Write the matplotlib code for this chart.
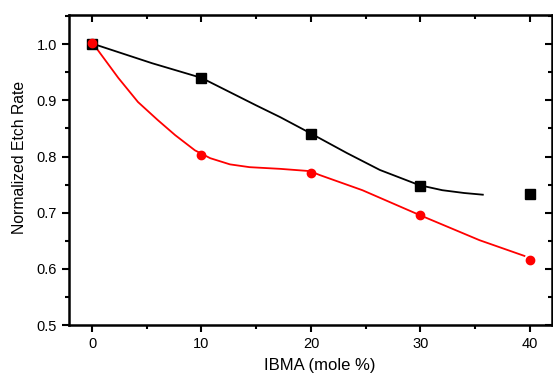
import matplotlib.pyplot as plt
from matplotlib.ticker import MultipleLocator

plt.rcParams['font.family'] = ['Liberation Sans', 'DejaVu Sans']

# measured points
ibma = [0, 10, 20, 30, 40]
rate_black = [1.000, 0.940, 0.840, 0.747, 0.733]
rate_red = [1.002, 0.803, 0.771, 0.695, 0.616]

# fitted curves
black_fit_x = [0.5, 5.5, 10, 15, 17.2, 19.9, 23.3, 26.3, 29.9, 32.0, 34.0, 35.7]
black_fit_y = [0.998, 0.966, 0.940, 0.891, 0.870, 0.842, 0.806, 0.776, 0.749, 0.740, 0.735, 0.732]
red_fit_x = [0.55, 2.4, 4.2, 6.0, 7.6, 9.4, 10.8, 12.6, 14.4, 17.2, 19.9, 20.8, 24.7, 29.9, 35.4, 39.5]
red_fit_y = [0.989, 0.940, 0.897, 0.865, 0.838, 0.811, 0.797, 0.786, 0.781, 0.778, 0.774, 0.767, 0.740, 0.696, 0.651, 0.623]

fig = plt.figure(figsize=(5.53, 3.74), dpi=100)
ax = fig.add_axes([0.1248, 0.131, 0.873, 0.829])

ax.plot(black_fit_x, black_fit_y, color='black', lw=1.3)
ax.plot(red_fit_x, red_fit_y, color='red', lw=1.3)
ax.plot(ibma, rate_black, 's', color='black', ms=6.5, mec='black')
ax.plot(ibma, rate_red, 'o', color='red', ms=6, mec='red')

ax.set_xlim(-2.1, 42)
ax.set_ylim(0.5, 1.052)
ax.xaxis.set_major_locator(MultipleLocator(10))
ax.xaxis.set_minor_locator(MultipleLocator(5))
ax.yaxis.set_major_locator(MultipleLocator(0.1))
ax.yaxis.set_minor_locator(MultipleLocator(0.05))
ax.yaxis.set_major_formatter(plt.FormatStrFormatter('%.1f'))

for s in ax.spines.values():
    s.set_linewidth(1.8)

ax.tick_params(which='both', direction='out', width=1.5, labelsize=10.5)
ax.tick_params(which='major', length=5)
ax.tick_params(which='minor', length=3)

# inward ticks on top and right
top = ax.secondary_xaxis('top')
top.xaxis.set_major_locator(MultipleLocator(10))
top.xaxis.set_minor_locator(MultipleLocator(5))
top.tick_params(which='both', direction='in', width=1.5, labeltop=False)
top.tick_params(which='major', length=5)
top.tick_params(which='minor', length=3)
right = ax.secondary_yaxis('right')
right.yaxis.set_major_locator(MultipleLocator(0.1))
right.yaxis.set_minor_locator(MultipleLocator(0.05))
right.tick_params(which='both', direction='in', width=1.5, labelright=False)
right.tick_params(which='major', length=5)
right.tick_params(which='minor', length=3)

ax.set_xlabel('IBMA (mole %)', fontsize=12)
ax.set_ylabel('Normalized Etch Rate', fontsize=11.3)
ax.xaxis.set_label_coords(0.52, -0.108)
ax.yaxis.set_label_coords(-0.087, 0.54)

fig.savefig('out.png', dpi=100)
